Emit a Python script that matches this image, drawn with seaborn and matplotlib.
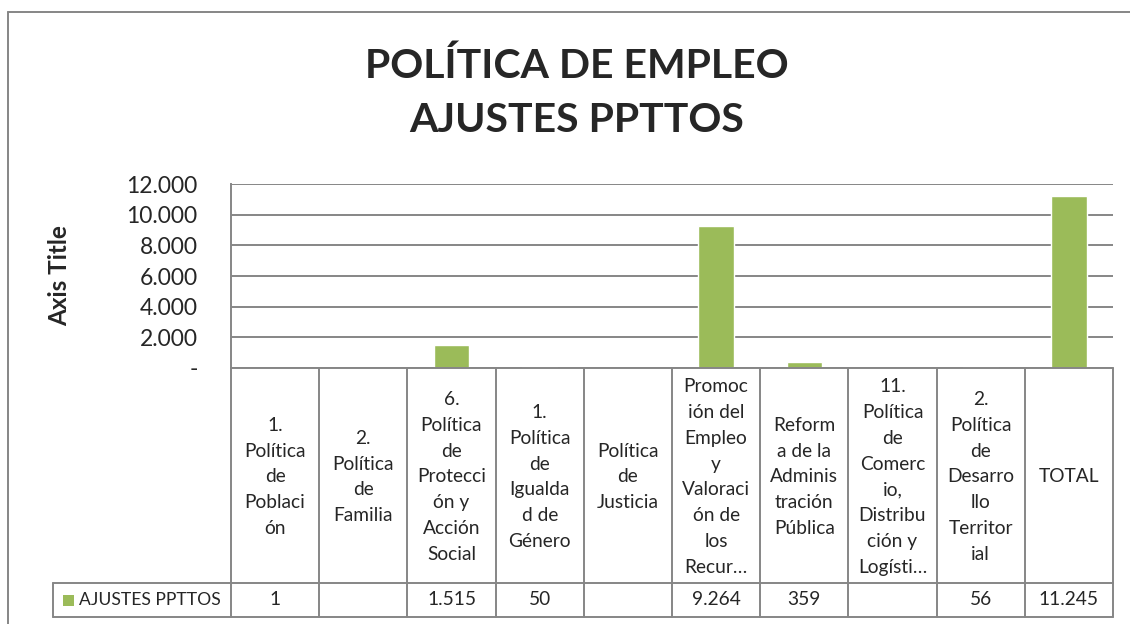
import numpy as np
import pandas as pd
import seaborn as sns
import matplotlib
matplotlib.use("Agg")
import matplotlib.pyplot as plt
from matplotlib.lines import Line2D
from matplotlib.patches import Rectangle

# Column headers as they wrap inside the data table cells
categories = [
    "1.\nPolítica\nde\nPoblaci\nón",
    "2.\nPolítica\nde\nFamilia",
    "6.\nPolítica\nde\nProtecci\nón y\nAcción\nSocial",
    "1.\nPolítica\nde\nIgualda\nd de\nGénero",
    "Política\nde\nJusticia",
    "Promoc\nión del\nEmpleo\ny\nValoraci\nón de\nlos\nRecur…",
    "Reform\na de la\nAdminis\ntración\nPública",
    "11.\nPolítica\nde\nComerc\nio,\nDistribu\nción y\nLogísti…",
    "2.\nPolítica\nde\nDesarro\nllo\nTerritor\nial",
    "TOTAL",
]
values = [1, np.nan, 1515, 50, np.nan, 9264, 359, np.nan, 56, 11245]
series_name = "AJUSTES PPTTOS"
title_lines = ["POLÍTICA DE EMPLEO", "AJUSTES PPTTOS"]
y_ticks = [0, 2000, 4000, 6000, 8000, 10000, 12000]

GREEN = "#9BBB59"
GRID = "#868686"
FONT = ["Lato", "DejaVu Sans"]

sns.set_theme(style="white")
plt.rcParams["font.family"] = FONT

W, H = 1130, 624
fig = plt.figure(figsize=(W / 100, H / 100), dpi=100)

# plot area in pixel coordinates
px_left, px_right, px_top, px_bottom = 231, 1113, 184, 368
ax = fig.add_axes([px_left / W, 1 - px_bottom / H,
                   (px_right - px_left) / W, (px_bottom - px_top) / H])

df = pd.DataFrame({"cat": categories, "val": values})
sns.barplot(data=df.dropna(), x="cat", y="val", order=categories,
            color=GREEN, saturation=1, width=0.4, ax=ax)

ax.set_xlim(-0.5, len(categories) - 0.5)
ax.set_ylim(0, 12000)
ax.set_yticks(y_ticks)
ax.set_yticklabels(["-" if v == 0 else f"{v:,}".replace(",", ".") for v in y_ticks],
                   fontsize=16.5)
ax.tick_params(axis="y", length=0, pad=24)
ax.set_xticks([])
ax.set_xlabel("")
ax.set_ylabel("")
ax.yaxis.grid(True, color=GRID, linewidth=1.4)
ax.set_axisbelow(True)
for side in ("top", "right", "bottom"):
    ax.spines[side].set_visible(False)
ax.spines["left"].set_color(GRID)
ax.spines["left"].set_linewidth(1.4)

# data table under the plot area
unit = (px_right - px_left) / len(categories)
ax_h = px_bottom - px_top
y_head = -(583 - px_bottom) / ax_h
y_row = -(617 - px_bottom) / ax_h
trans = ax.get_xaxis_transform()
lk = dict(color=GRID, linewidth=1.4, transform=trans, clip_on=False)

for i in range(len(categories) + 1):
    x = i - 0.5
    ax.add_line(Line2D([x, x], [0, y_row], **lk))
leg_x = -0.5 - (px_left - 53) / unit
ax.add_line(Line2D([-0.5, len(categories) - 0.5], [0, 0], **lk))
ax.add_line(Line2D([leg_x, len(categories) - 0.5], [y_head, y_head], **lk))
ax.add_line(Line2D([leg_x, len(categories) - 0.5], [y_row, y_row], **lk))
ax.add_line(Line2D([leg_x, leg_x], [y_head, y_row], **lk))

TABLE_FS = 13.8
for i, (c, v) in enumerate(zip(categories, values)):
    ax.text(i, -(477 - px_bottom) / ax_h, c, transform=trans, ha="center",
            va="center", fontsize=TABLE_FS, linespacing=1.63, clip_on=False)
    txt = "" if np.isnan(v) else f"{int(v):,}".replace(",", ".")
    ax.text(i, (y_head + y_row) / 2, txt, transform=trans, ha="center",
            va="center", fontsize=TABLE_FS, clip_on=False)

# legend key inside the table's first cell
key_x0 = -0.5 - (px_left - 63) / unit
ax.add_patch(Rectangle((key_x0, -(606 - px_bottom) / ax_h), 11 / unit, 11 / ax_h,
                       facecolor=GREEN, edgecolor="none", transform=trans,
                       clip_on=False))
ax.text(-0.5 - (px_left - 79) / unit, (y_head + y_row) / 2, series_name,
        transform=trans, ha="left", va="center", fontsize=12.6, clip_on=False)

# chart title (two lines, placed on their baselines) and axis title
for line, base in zip(title_lines, [78, 132]):
    fig.text(577 / W, 1 - base / H, line, ha="center", va="baseline",
             fontsize=29.5, fontweight="bold")
fig.text(60 / W, 1 - 276 / H, "Axis Title", ha="center", va="center",
         rotation=90, fontsize=17.5, fontweight="bold")

# chart area border
fig.add_artist(Line2D([8 / W, 8 / W], [0, 1 - 12 / H], color=GRID, linewidth=1.4,
                      transform=fig.transFigure))
fig.add_artist(Line2D([8 / W, 1], [1 - 12 / H, 1 - 12 / H], color=GRID,
                      linewidth=1.4, transform=fig.transFigure))

fig.savefig("out.png", dpi=100)
